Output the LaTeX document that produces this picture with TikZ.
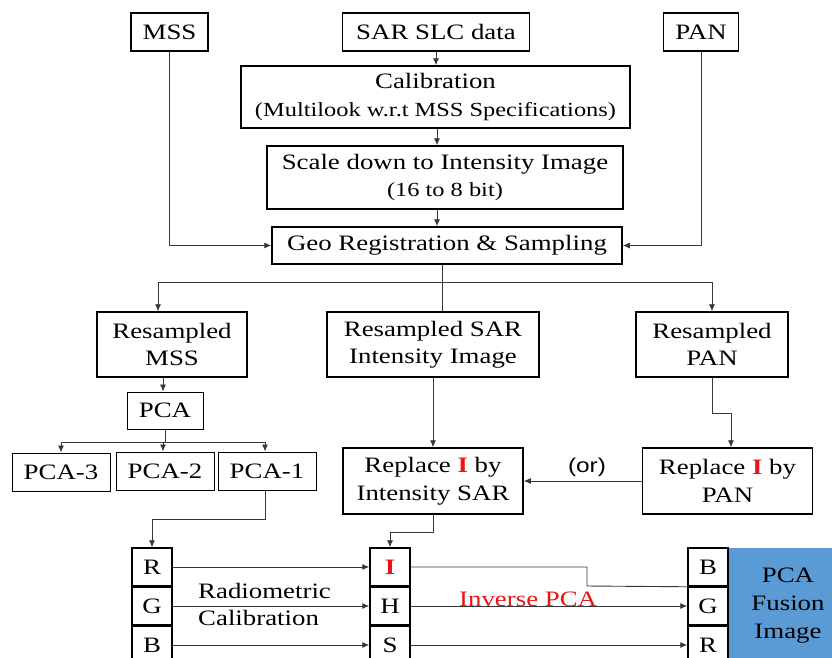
\documentclass[tikz,border=0pt]{standalone}
\usepackage{fontspec}
\setmainfont{Liberation Serif}[FakeStretch=1.22]
\setsansfont{Liberation Sans}[FakeStretch=1.22]
\usetikzlibrary{arrows.meta}
\definecolor{fuse}{RGB}{91,155,213}
\definecolor{conncol}{RGB}{55,55,55}
\definecolor{redI}{RGB}{235,20,20}
\newcommand{\redI}{\textcolor{redI}{\textbf{I}}}
\newcommand{\subf}{\fontsize{20}{27.5}\selectfont}
\begin{document}
\begin{tikzpicture}[x=1pt,y=-1pt,
 box/.style={draw=black,line width=1.5pt,inner sep=0pt,align=center,font=\fontsize{22}{27.5}\selectfont},
 thinbox/.style={box,line width=1pt},
 conn/.style={draw=conncol,line width=0.9pt},
 arr/.style={conn,-{Latex[length=7pt,width=6pt]}},
 lbl/.style={inner sep=0pt,font=\fontsize{22}{27.5}\selectfont}
]
\useasboundingbox (0,0) rectangle (832,657);

% top row
\node[box,minimum width=77pt,minimum height=38pt] (mss) at (169.5,32) {MSS};
\node[box,minimum width=187pt,minimum height=38pt] (sar) at (436,32) {SAR SLC data};
\node[box,minimum width=75pt,minimum height=38pt] (pan) at (701,32) {PAN};
\node[box,minimum width=389pt,minimum height=62pt] (cal) at (435.5,97) {Calibration\\{\subf (Multilook w.r.t MSS Specifications)}};
\node[box,minimum width=356pt,minimum height=63pt] (scale) at (445,177.5) {Scale down to Intensity Image\\{\subf (16 to 8 bit)}};
\node[box,minimum width=350pt,minimum height=37pt] (geo) at (447,245.5) {Geo Registration \& Sampling};

% resampled row
\node[box,minimum width=150pt,minimum height=65pt] (rmss) at (172,344.5) {Resampled\\MSS};
\node[box,minimum width=212pt,minimum height=65pt] (rsar) at (433,344.5) {Resampled SAR\\Intensity Image};
\node[box,minimum width=152pt,minimum height=65pt] (rpan) at (712,344.5) {Resampled\\PAN};

% PCA
\node[thinbox,minimum width=76pt,minimum height=37pt] (pca) at (165,410.5) {PCA};
\node[thinbox,minimum width=98pt,minimum height=38pt] (pca3) at (61,472) {PCA-3};
\node[thinbox,minimum width=98pt,minimum height=38pt] (pca2) at (165,471) {PCA-2};
\node[thinbox,minimum width=98pt,minimum height=38pt] (pca1) at (267,471) {PCA-1};

% replace boxes
\node[box,minimum width=180pt,minimum height=66pt] (rsarR) at (433,481) {Replace \redI{} by\\Intensity SAR};
\node[box,minimum width=170pt,minimum height=66pt] (rpanR) at (727.5,481) {Replace \redI{} by\\PAN};

% bottom channel boxes
\node[box,minimum width=40pt,minimum height=38pt] (bR) at (152,567) {R};
\node[box,minimum width=40pt,minimum height=38pt] (bG) at (152,606) {G};
\node[box,minimum width=40pt,minimum height=38pt] (bB) at (152,645) {B};
\node[box,minimum width=40pt,minimum height=38pt] (bI) at (390,567) {\redI};
\node[box,minimum width=40pt,minimum height=38pt] (bH) at (390,606) {H};
\node[box,minimum width=40pt,minimum height=38pt] (bS) at (390,645) {S};
\node[fill=fuse,inner sep=0pt,minimum width=120pt,minimum height=116pt,align=center,font=\fontsize{22}{28}\selectfont] (fus) at (788,606) {PCA\\Fusion\\Image};
\node[box,minimum width=40pt,minimum height=38pt] (rB) at (708,567) {B};
\node[box,minimum width=40pt,minimum height=38pt] (rG) at (708,606) {G};
\node[box,minimum width=40pt,minimum height=38pt] (rR) at (708,645) {R};

% labels
\node[lbl,anchor=west] (radio) at (198,591) {Radiometric};
\node[lbl,anchor=west] (calib) at (198,618) {Calibration};
\node[lbl,anchor=west,text=redI] (inv) at (459,599) {Inverse PCA};
\node[inner sep=0pt,font=\sffamily\fontsize{20}{24}\selectfont] (orl) at (587,467) {(or)};

% coordinates
\coordinate (split) at (442,282);
\coordinate (bl) at (158,282);
\coordinate (br) at (712,282);
\coordinate (ca) at (437,0);
\coordinate (pm) at (163,0);
\coordinate (pj) at (165,442);
\coordinate (pl) at (61,442);
\coordinate (pr) at (265,442);
\coordinate (pk) at (731,413);
\coordinate (c1) at (152,519);
\coordinate (c2) at (390,532);
\coordinate (c3) at (587,586);

% connectors
\draw[arr] (mss.south) |- (geo.west);
\draw[arr] (pan.south) |- (geo.east);
\draw[arr] (sar.south) -- (sar.south |- cal.north);
\draw[arr] (ca |- cal.south) -- (ca |- scale.north);
\draw[arr] (ca |- scale.south) -- (ca |- geo.north);
\draw[conn] (split |- geo.south) -- (split);
\draw[conn] (bl) -- (br);
\draw[arr] (bl) -- (bl |- rmss.north);
\draw[arr] (br) -- (rpan.north);
\draw[conn] (split) -- (split |- rsar.north);
\draw[arr] (pm |- rmss.south) -- (pm |- pca.north);
\draw[conn] (pca.south) -- (pj);
\draw[conn] (pl) -- (pr);
\draw[arr] (pl) -- (pca3.north);
\draw[arr] (pm |- pj) -- (pm |- pca2.north);
\draw[arr] (pr) -- (pr |- pca1.north);
\draw[arr] (rsar.south) -- (rsarR.north);
\draw[arr] (rpan.south) |- (pk) -- (pk |- rpanR.north);
\draw[arr] (rpanR.west) -- (rsarR.east);
\draw[arr] (pr |- pca1.south) |- (c1) -- (bR.north);
\draw[arr] (rsarR.south) |- (c2) -- (bI.north);
\draw[arr] (bR.east) -- (bI.west);
\draw[arr] (bG.east) -- (bH.west);
\draw[arr] (bB.east) -- (bS.west);
\draw[conn] (bI.east) -| (c3) -- (rB.south west);
\draw[arr] (bH.east) -- (rG.west);
\draw[arr] (bS.east) -- (rR.west);
\end{tikzpicture}
\end{document}
